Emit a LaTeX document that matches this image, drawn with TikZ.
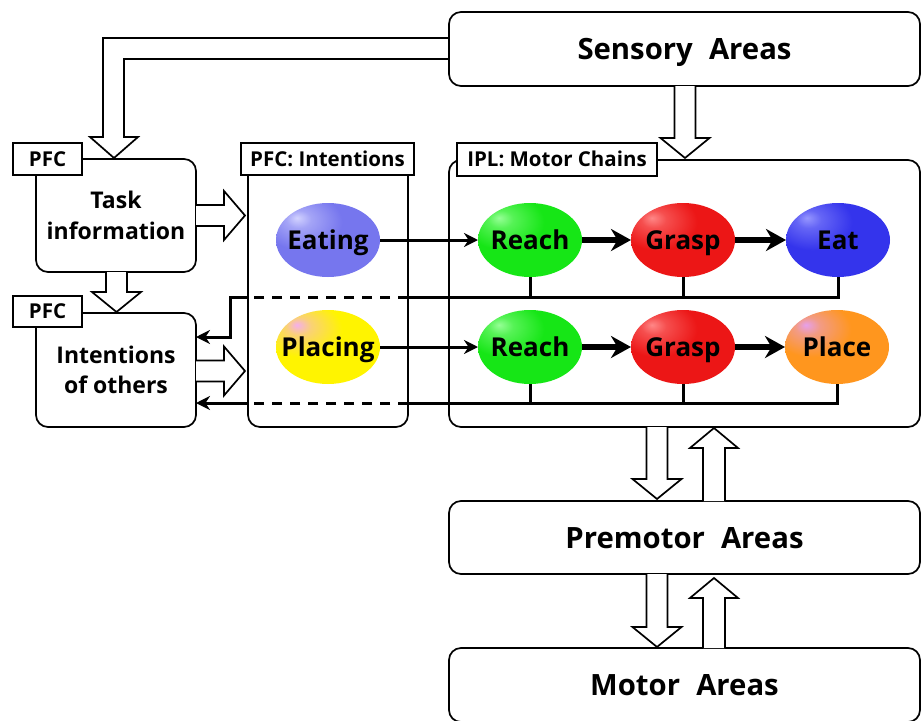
\documentclass[tikz,border=0pt]{standalone}
\usepackage{fontspec}
\setmainfont{Open Sans}
\usetikzlibrary{shapes.geometric,arrows.meta}

% soft glossy fill for the ellipses: base colour ecol, highlight hcol
\colorlet{ecol}{red}
\colorlet{hcol}{white}
\pgfdeclareradialshading[ecol,hcol]{eball}{\pgfpoint{-15bp}{15bp}}{%
  color(0bp)=(hcol);color(6bp)=(hcol!50!ecol);color(19bp)=(ecol);color(100bp)=(ecol)}

\definecolor{cEating}{RGB}{118,118,238}
\definecolor{hEating}{RGB}{210,210,255}
\definecolor{cReach}{RGB}{22,230,22}
\definecolor{hReach}{RGB}{150,255,150}
\definecolor{cGrasp}{RGB}{236,22,22}
\definecolor{hGrasp}{RGB}{255,135,135}
\definecolor{cEat}{RGB}{52,52,236}
\definecolor{hEat}{RGB}{150,150,255}
\definecolor{cPlacing}{RGB}{255,244,0}
\definecolor{hPlacing}{RGB}{245,175,235}
\definecolor{cPlace}{RGB}{255,150,30}
\definecolor{hPlace}{RGB}{230,160,235}

\newcommand\bigtxt{\fontsize{29.3}{32}\selectfont\bfseries}
\newcommand\boxtxt{\fontsize{23}{30.5}\selectfont\bfseries}
\newcommand\elltxt{\fontsize{26}{28}\selectfont\bfseries}
\newcommand\labtxt{\fontsize{20.5}{22}\selectfont\bfseries}

\tikzset{
  frame/.style={draw, line width=1.7pt, rounded corners=12pt, inner sep=0pt, outer sep=0pt, fill=white},
  area/.style={frame, minimum width=471pt, font=\bigtxt, text height=21pt, text depth=0pt},
  tag/.style={draw, line width=1.7pt, fill=white, inner sep=0pt, outer sep=0pt, font=\labtxt,
    text height=14.8pt, text depth=0pt},
  bubble/.style 2 args={ellipse, minimum width=104pt, minimum height=74pt, inner sep=0pt, outer sep=0pt,
    /utils/exec={\colorlet{ecol}{#1}\colorlet{hcol}{#2}}, shade, shading=eball},
  word/.style={font=\elltxt, text height=18.7pt, text depth=0pt, inner sep=0pt},
  fat/.style={draw, line width=1.7pt, fill=white, line join=miter},
  thinarr/.style={line width=3pt, -{Stealth[length=14pt,width=14pt]}},
  thickarr/.style={line width=6pt, -{Stealth[length=20pt,width=22pt]}},
  bus/.style={line width=3pt},
  dashbus/.style={line width=3pt, dash pattern=on 10pt off 8pt},
}

% hollow block arrow pointing down: centre x, top y, tip y
\newcommand\fatdown[3]{%
  \draw[fat] (#1-10.5,#2) -- (#1-10.5,#3-20) -- (#1-24.5,#3-20) -- (#1,#3)
    -- (#1+24.5,#3-20) -- (#1+10.5,#3-20) -- (#1+10.5,#2);}
% hollow block arrow pointing up: centre x, bottom y, tip y
\newcommand\fatup[3]{%
  \draw[fat] (#1-11,#2) -- (#1-11,#3+20) -- (#1-24,#3+20) -- (#1,#3)
    -- (#1+24,#3+20) -- (#1+11,#3+20) -- (#1+11,#2);}
% hollow block arrow pointing right: left x, centre y, tip x
\newcommand\fatright[3]{%
  \draw[fat] (#1,#2-10.5) -- (#3-21,#2-10.5) -- (#3-21,#2-24.5) -- (#3,#2)
    -- (#3-21,#2+24.5) -- (#3-21,#2+10.5) -- (#1,#2+10.5);}

\begin{document}
\begin{tikzpicture}[x=1pt,y=-1pt]
\fill[white] (0,0) rectangle (923,720);
\useasboundingbox (0,0) rectangle (923,720);
\clip (0,0) rectangle (923,720);

% sensory input routed to the task-information box
\draw[fat] (449,38) -- (103,38) -- (103,137) -- (90,137) -- (114,158) -- (138,137)
  -- (124,137) -- (124,59) -- (449,59);

% large area boxes
\node[area, minimum height=74pt] (sens) at (684.5,49) {Sensory\hspace{0.55em}Areas};
\node[area, minimum height=73pt] (premotor) at (684.5,537.5) {Premotor\hspace{0.55em}Areas};
\node[area, minimum height=74pt] (motor) at (684.5,685) {Motor\hspace{0.55em}Areas};

% containers
\node[frame, minimum width=471pt, minimum height=267pt] (ipl) at (684.5,293.5) {};
\node[frame, minimum width=160pt, minimum height=267pt] (pfcI) at (328,293.5) {};
\node[frame, minimum width=160pt, minimum height=113pt, align=center, font=\boxtxt] (task) at (116,215.5)
  {Task\\information};
\node[frame, minimum width=160pt, minimum height=114pt, align=center, font=\boxtxt] (others) at (116,370)
  {Intentions\\of others};

% block arrows between areas
\fatdown{685}{86}{158}
\fatdown{116.5}{272}{312}
\fatright{196}{215.5}{245}
\fatright{196}{371}{245}
\fatdown{657}{427}{499}
\fatup{714}{501}{428}
\fatdown{657}{574}{647}
\fatup{714}{648}{578}

% labels
\node[tag, minimum width=200pt, minimum height=33pt] (iplTag) at (557,159.5) {IPL: Motor Chains};
\node[tag, minimum width=173pt, minimum height=32pt] (pfcITag) at (327.5,159) {PFC: Intentions};
\node[tag, minimum width=69pt, minimum height=32pt] (pfc1) at (47.5,159) {PFC};
\node[tag, minimum width=69pt, minimum height=31pt] (pfc2) at (47.5,311.5) {PFC};

% intentions and motor chains (fixed-size ellipses, words laid on top)
\node[bubble={cEating}{hEating}, label={[word]center:Eating}] (eating) at (328,240) {};
\node[bubble={cPlacing}{hPlacing}, label={[word]center:Placing}] (placing) at (328,347) {};
\node[bubble={cReach}{hReach}, label={[word]center:Reach}] (reach1) at (530,240) {};
\node[bubble={cGrasp}{hGrasp}, label={[word]center:Grasp}] (grasp1) at (683,240) {};
\node[bubble={cEat}{hEat}, label={[word]center:Eat}] (eat) at (838,240) {};
\node[bubble={cReach}{hReach}, label={[word]center:Reach}] (reach2) at (530,347) {};
\node[bubble={cGrasp}{hGrasp}, label={[word]center:Grasp}] (grasp2) at (683,347) {};
\node[bubble={cPlace}{hPlace}, label={[word]center:Place}] (place) at (837,347) {};

\draw[thinarr] (eating) -- (reach1);
\draw[thickarr] (reach1) -- (grasp1);
\draw[thickarr] (grasp1) -- (eat);
\draw[thinarr] (placing) -- (reach2);
\draw[thickarr] (reach2) -- (grasp2);
\draw[thickarr] (grasp2) -- (place);

% feedback from the chains to the intentions of others
\coordinate (b1) at (0,297);
\coordinate (b2) at (0,403);
\coordinate (k1) at (230,337);
\draw[bus] (reach1.south) -- (reach1.south |- b1);
\draw[bus] (grasp1.south) -- (grasp1.south |- b1);
\draw[bus] (eat.south) |- (pfcI.east |- b1);
\draw[dashbus] (pfcI.east |- b1) -- (pfcI.west |- b1);
\draw[bus, -{Stealth[length=14pt,width=14pt]}] (pfcI.west |- b1) -| (k1) -- (others.east |- k1);

\draw[bus] (reach2.south) -- (reach2.south |- b2);
\draw[bus] (grasp2.south) -- (grasp2.south |- b2);
\draw[bus] (place.south) |- (pfcI.east |- b2);
\draw[dashbus] (pfcI.east |- b2) -- (pfcI.west |- b2);
\draw[bus, -{Stealth[length=14pt,width=14pt]}] (pfcI.west |- b2) -- (others.east |- b2);
\end{tikzpicture}
\end{document}
